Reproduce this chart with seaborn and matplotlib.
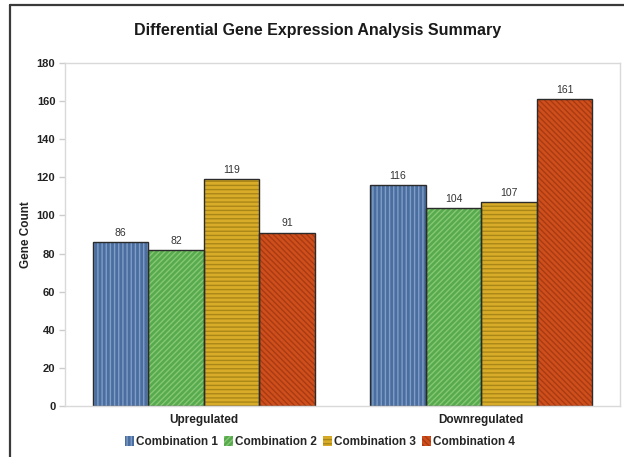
import matplotlib
matplotlib.use("Agg")
import matplotlib.pyplot as plt
import matplotlib.patches as mpatches
from matplotlib.lines import Line2D
import seaborn as sns
import pandas as pd

categories = ["Upregulated", "Downregulated"]
series = ["Combination 1", "Combination 2", "Combination 3", "Combination 4"]
combo1 = [86, 116]
combo2 = [82, 104]
combo3 = [119, 107]
combo4 = [91, 161]
y_ticks = [0, 20, 40, 60, 80, 100, 120, 140, 160, 180]

fills = ["#4a6e9f", "#58aa4e", "#d8ac28", "#cf4f1c"]
hatch_colors = ["#7f9dc6", "#86c874", "#a98618", "#a93a12"]
hatches = ["||||", "//////", "----", "\\\\\\\\\\\\"]

rows = []
for name, vals in zip(series, [combo1, combo2, combo3, combo4]):
    for cat, v in zip(categories, vals):
        rows.append({"Category": cat, "Series": name, "Count": v})
df = pd.DataFrame(rows)

sns.set_theme(style="white")
plt.rcParams["font.family"] = ["Liberation Sans", "DejaVu Sans"]
plt.rcParams["hatch.linewidth"] = 1.0

fig = plt.figure(figsize=(6.24, 4.57), dpi=100)
ax = fig.add_axes([65 / 624, 1 - 406 / 457, 555 / 624, 343 / 457])

sns.barplot(data=df, x="Category", y="Count", hue="Series", order=categories,
            hue_order=series, palette=fills, width=0.8, saturation=1,
            errorbar=None, ax=ax, legend=False)

edge = "#2b2b2b"
for container, hc, h in zip(ax.containers, hatch_colors, hatches):
    for bar in container:
        bar.set_hatch(h)
        bar.set_edgecolor(hc)
        bar.set_linewidth(0)
        outline = mpatches.Rectangle((bar.get_x(), bar.get_y()), bar.get_width(),
                                     bar.get_height(), fill=False, edgecolor=edge,
                                     linewidth=1.0, zorder=bar.get_zorder() + 0.1)
        ax.add_patch(outline)
    ax.bar_label(container, labels=[str(int(b.get_height())) for b in container],
                 padding=3, fontsize=7.5, color="#333333")

ax.set_ylim(0, 180)
ax.set_xlim(-0.5, 1.5)
ax.set_yticks(y_ticks)
ax.set_yticklabels([str(t) for t in y_ticks], fontsize=8, fontweight="bold",
                   color="#222222")
ax.set_xticks([0, 1])
ax.set_xticklabels(categories, fontsize=8.5, fontweight="bold", color="#222222")
ax.set_xticks([-0.5, 0.5, 1.5], minor=True)
ax.tick_params(axis="x", which="major", length=0, pad=6)
ax.tick_params(axis="x", which="minor", length=4, color="#cccccc", width=1)
ax.tick_params(axis="y", which="major", length=4, color="#cccccc", width=1, pad=3,
               left=True)
ax.set_xlabel("")
ax.set_ylabel("Gene Count", fontsize=8.5, fontweight="bold", color="#222222",
              labelpad=3)
for side in ["left", "right", "top", "bottom"]:
    ax.spines[side].set_visible(True)
    ax.spines[side].set_color("#d9d9d9")
    ax.spines[side].set_linewidth(1.0)

fig.text(318 / 624, 1 - 31 / 457, "Differential Gene Expression Analysis Summary",
         ha="center", va="center", fontsize=11.5, fontweight="bold",
         color="#1a1a1a")

handles = [mpatches.Patch(facecolor=f, edgecolor=hc, hatch=h, linewidth=0)
           for f, hc, h in zip(fills, hatch_colors, hatches)]
fig.legend(handles, series, loc="center", bbox_to_anchor=(320 / 624, 1 - 442 / 457),
           ncol=4, frameon=False, prop={"weight": "bold", "size": 8.5},
           handlelength=0.8, handleheight=0.9, handletextpad=0.15,
           columnspacing=0.5, borderaxespad=0)

# outer frame drawn along the left and top edges of the figure
fig.add_artist(Line2D([10 / 624, 10 / 624], [0, 1 - 5 / 457], transform=fig.transFigure,
                      color="#3a3a3a", linewidth=1.6))
fig.add_artist(Line2D([10 / 624, 1], [1 - 5 / 457, 1 - 5 / 457], transform=fig.transFigure,
                      color="#3a3a3a", linewidth=1.6))

fig.savefig("out.png", dpi=100)
